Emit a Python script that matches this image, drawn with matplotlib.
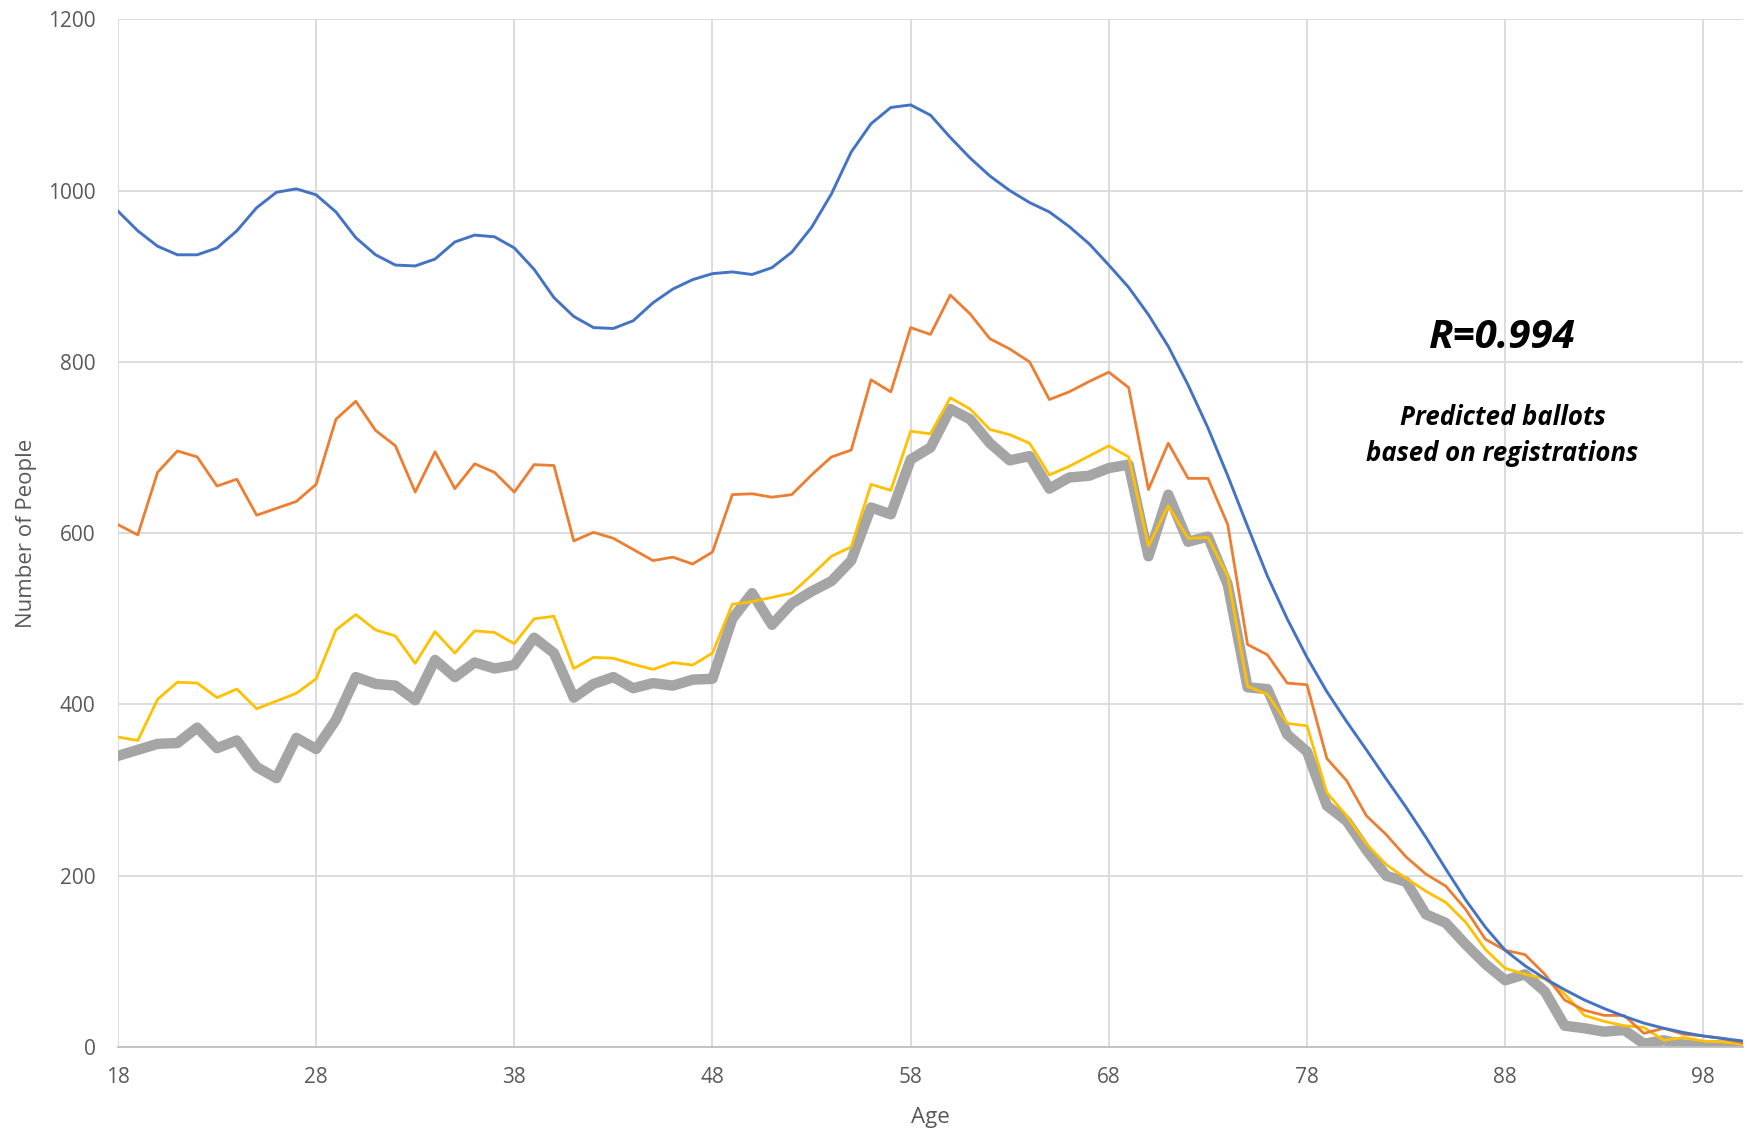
import matplotlib.pyplot as plt

ages = list(range(18, 101))

registered = [976, 953, 935, 925, 925, 933, 953, 980, 998, 1002,
              995, 975, 945, 925, 913, 912, 920, 940, 948, 946,
              933, 908, 875, 853, 840, 839, 848, 869, 885, 896,
              903, 905, 902, 910, 928, 957, 996, 1045, 1078, 1097,
              1100, 1088, 1062, 1038, 1017, 1000, 986, 975, 958, 938,
              913, 887, 855, 818, 773, 723, 667, 608, 550, 500,
              455, 415, 380, 347, 313, 280, 245, 208, 172, 140,
              113, 95, 80, 67, 55, 45, 36, 28, 22, 17,
              13, 10, 7]

orange = [610, 598, 671, 696, 689, 655, 663, 621, 629, 637,
          657, 733, 754, 720, 702, 648, 695, 652, 681, 671,
          648, 680, 679, 591, 601, 594, 581, 568, 572, 564,
          578, 645, 646, 642, 645, 668, 689, 697, 779, 765,
          840, 832, 878, 856, 827, 815, 800, 756, 765, 777,
          788, 770, 651, 705, 664, 664, 610, 470, 458, 425,
          423, 337, 311, 270, 248, 222, 202, 188, 161, 126,
          113, 108, 85, 55, 43, 37, 37, 16, 22, 15,
          13, 10, 5]

predicted = [362, 358, 406, 426, 425, 408, 418, 395, 404, 413,
             430, 487, 505, 487, 480, 448, 485, 460, 486, 484,
             471, 500, 503, 442, 455, 454, 447, 441, 449, 446,
             460, 517, 520, 525, 530, 551, 573, 584, 657, 650,
             719, 716, 758, 745, 721, 715, 705, 668, 678, 690,
             702, 689, 585, 632, 594, 595, 550, 421, 412, 378,
             375, 297, 270, 237, 213, 197, 182, 169, 146, 114,
             92, 85, 80, 62, 37, 30, 25, 23, 8, 11,
             7, 6, 3]

ballots = [340, 347, 354, 355, 373, 349, 358, 327, 314, 361,
           348, 382, 432, 424, 422, 405, 452, 432, 449, 442,
           446, 478, 460, 408, 424, 432, 419, 425, 422, 429,
           430, 500, 530, 493, 518, 532, 544, 568, 630, 622,
           686, 700, 745, 733, 705, 685, 690, 652, 665, 667,
           676, 680, 573, 645, 590, 596, 540, 420, 418, 365,
           345, 282, 264, 230, 200, 193, 155, 145, 120, 97,
           78, 85, 65, 25, 22, 18, 20, 4, 8, 3,
           2, 2, 1]

x_ticks = list(range(18, 101, 10))
y_ticks = list(range(0, 1201, 200))

plt.rcParams['font.family'] = ['Open Sans', 'DejaVu Sans']

fig = plt.figure(figsize=(17.5, 11.32), dpi=100)
ax = fig.add_axes([0.0674, 0.075, 0.9286, 0.908])

ax.plot(ages, ballots, color='#A5A5A5', lw=7.5, zorder=2, solid_joinstyle='round')
ax.plot(ages, predicted, color='#FFC000', lw=2.0, zorder=3)
ax.plot(ages, orange, color='#ED7D31', lw=2.0, zorder=4)
ax.plot(ages, registered, color='#4472C4', lw=2.1, zorder=5)

ax.set_xlim(18, 100)
ax.set_ylim(0, 1200)
ax.set_xticks(x_ticks)
ax.set_yticks(y_ticks)
ax.grid(True, color='#D9D9D9', lw=1.3, zorder=0)
ax.set_axisbelow(True)
for side in ['top', 'right', 'left']:
    ax.spines[side].set_visible(False)
ax.spines['bottom'].set_color('#BFBFBF')
ax.spines['bottom'].set_linewidth(1.3)
ax.tick_params(length=0, labelsize=15, labelcolor='#595959')
ax.tick_params(axis='y', pad=16)
ax.tick_params(axis='x', pad=14)

ax.set_xlabel('Age', fontsize=16, color='#595959', labelpad=14)
ax.set_ylabel('Number of People', fontsize=16, color='#595959', labelpad=8)

ax.text(0.852, 0.690, 'R=0.994', transform=ax.transAxes, ha='center', va='center',
        fontsize=29, fontweight='bold', fontstyle='italic')
ax.text(0.852, 0.595, 'Predicted ballots\nbased on registrations', transform=ax.transAxes,
        ha='center', va='center', fontsize=18.5, fontweight='bold', fontstyle='italic',
        linespacing=1.4)

plt.savefig('out.png', dpi=100)
